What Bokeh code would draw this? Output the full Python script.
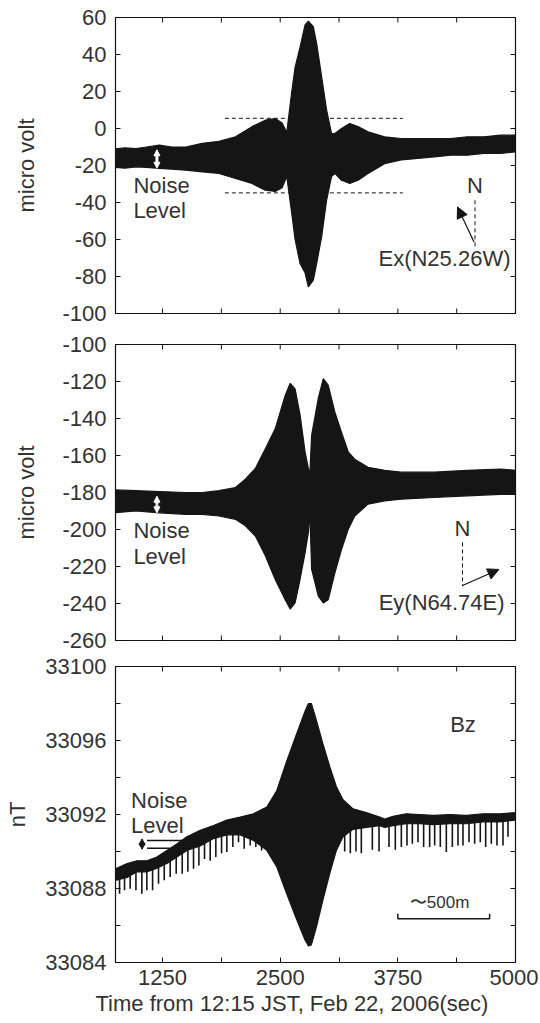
import numpy as np
from bokeh.plotting import figure
from bokeh.models import (Range1d, FixedTicker, Label, Arrow, NormalHead,
                          ColumnDataSource, Title)
from bokeh.layouts import column
from bokeh.embed import file_html
from bokeh.resources import INLINE

# ---------------- data ----------------
# Ex channel: upper / lower envelope of the recorded signal (micro volt)
ex_t = [750, 850, 968, 1080, 1215, 1350, 1496, 1672, 1849, 2025, 2200, 2341,
        2447, 2520, 2570, 2623, 2658, 2711, 2764, 2799, 2852, 2887, 2940, 2993,
        3045, 3081, 3151, 3239, 3327, 3433, 3609, 3785, 3961, 4137, 4313, 4489,
        4665, 4841, 5000]
ex_hi = [-11, -10.5, -10.8, -10, -9, -10, -10, -8, -7, -4.5, 1, 4.5,
         5.4, 3, -2, 20, 33, 44, 56, 58, 55, 46, 28, 10,
         -2.7, -2.7, 0, 2.7, 1, -1.8, -4.5, -5.4, -5.4, -5.4, -5.4, -4.5,
         -4.5, -3.6, -3.6]
ex_lo = [-21, -21.5, -20.7, -21, -21.6, -22, -22.5, -23.4, -24.3, -27, -29.7, -33.3,
         -34, -32, -26, -46, -60, -73, -78, -85.6, -82, -73, -58.6, -38.8,
         -26, -24.3, -28, -29.7, -28, -24.3, -19, -17, -16.2, -15.3, -14.4, -14.4,
         -13.5, -13.5, -12.6]
ex_band_levels = [5.5, -34.8]          # dashed reference levels
ex_band_span = [1912, 3803]

# Ey channel envelope (micro volt)
ey_t = [750, 968, 1215, 1496, 1672, 1849, 2025, 2130, 2236, 2341, 2447, 2553,
        2606, 2658, 2711, 2764, 2799, 2815, 2834, 2905, 2958, 3010, 3081, 3151,
        3222, 3292, 3433, 3609, 3785, 4137, 4489, 4841, 5000]
ey_hi = [-178.6, -179, -179.5, -180, -180, -179, -177.3, -172.8, -167, -156.5, -145.6, -127.5,
         -121, -124, -138, -158, -167, -170, -149, -129, -118.5, -122, -136.6, -147.4,
         -158, -162, -166.4, -168, -169, -169, -168, -167.3, -168]
ey_lo = [-190.9, -190, -191, -191.8, -191.8, -192.7, -194.5, -198, -203.5, -214, -227, -238,
         -243, -239.7, -227, -212.6, -201.7, -191, -221.6, -236, -239.7, -238, -223.4, -210.8,
         -200, -192.7, -186.3, -184.5, -183.6, -182.7, -181.8, -181, -181]

# Bz channel envelope (nT)
bz_t = [750, 874, 977, 1083, 1190, 1296, 1402, 1508, 1650, 1792, 1933, 2075,
        2216, 2358, 2464, 2570, 2677, 2765, 2800, 2831, 2884, 2955, 3026, 3097,
        3167, 3274, 3415, 3557, 3610, 3699, 3840, 3982, 4124, 4301, 4478, 4655,
        4832, 5000]
bz_hi = [33089.07, 33089.35, 33089.5, 33089.5, 33089.7, 33090.06, 33090.4, 33090.8,
         33091.14, 33091.4, 33091.7, 33091.86, 33092.04, 33092.4, 33093.3, 33094.9,
         33096.4, 33097.6, 33098.0, 33098.0, 33097.1, 33095.8, 33094.6, 33093.5,
         33092.8, 33092.3, 33092.1, 33091.86, 33091.75, 33091.9, 33092.04, 33092.0,
         33091.95, 33092.0, 33091.95, 33092.04, 33092.04, 33092.1]
bz_lo = [33088.44, 33088.6, 33088.9, 33088.9, 33089.1, 33089.35, 33089.7, 33090.06,
         33090.3, 33090.7, 33090.9, 33090.9, 33090.6, 33090.06, 33089.16, 33087.7,
         33086.3, 33085.2, 33084.9, 33084.95, 33085.9, 33087.4, 33088.8, 33090.06,
         33090.8, 33091.2, 33091.3, 33091.4, 33091.3, 33091.4, 33091.5, 33091.5,
         33091.45, 33091.5, 33091.5, 33091.6, 33091.6, 33091.7]
# downward spikes of the Bz record: time (sec) and lowest value (nT)
bz_spike_t = [793, 846, 906, 967, 1030, 1083, 1144, 1207, 1268, 1331, 1395, 1459,
              1519, 1579, 1636, 1696, 1756, 1816, 1877, 1933, 1997, 2057, 2117, 2181,
              2241, 2302, 3185, 3245, 3305, 3362, 3479, 3550, 3656, 3723, 3787, 3847,
              3904, 3964, 4024, 4088, 4141, 4201, 4265, 4329, 4389, 4442, 4506, 4566,
              4626, 4683, 4743, 4803, 4867, 4920]
bz_spike_lo = [33087.72, 33087.9, 33087.99, 33087.9, 33087.72, 33087.9, 33087.9, 33088.26,
               33088.44, 33088.62, 33088.8, 33088.8, 33088.9, 33089.07, 33089.25, 33089.6,
               33089.5, 33089.7, 33089.9, 33089.97, 33090.24, 33090.5, 33090.15, 33090.33,
               33090.24, 33090.06, 33090.0, 33089.9, 33090.0, 33089.9, 33090.1, 33090.0,
               33090.24, 33090.1, 33090.24, 33090.33, 33090.42, 33090.5, 33090.24, 33090.24,
               33090.33, 33090.24, 33089.97, 33090.24, 33090.33, 33090.33, 33090.5, 33090.42,
               33090.5, 33090.24, 33090.42, 33090.33, 33090.33, 33090.8]

x_ticks = [1250, 1875, 2500, 3125, 3750, 4375, 5000]
x_tick_text = ["1250", "", "2500", "", "3750", "", "5000"]
ex_ticks = [-100, -80, -60, -40, -20, 0, 20, 40, 60]
ey_ticks = [-260, -240, -220, -200, -180, -160, -140, -120, -100]
bz_ticks = [33084, 33086, 33088, 33090, 33092, 33094, 33096, 33098, 33100]
bz_tick_text = ["33084", "", "33088", "", "33092", "", "33096", "", "33100"]
x_title = "Time from 12:15 JST, Feb 22, 2006(sec)"

# ---------------- styling ----------------
FONT = "Liberation Sans"
TXT = "#333333"
INK = "#151515"
FS = "22px"
FRAME_W, FRAME_H = 402, 296
TICK_PX = 5
XR = (750, 5000)


def make_fig(height, yr, yticks, ytext, ylabel, bl, bt, lab_standoff, show_x):
    bb = height - bt - FRAME_H
    br = 538 - bl - FRAME_W
    p = figure(width=538, height=height, x_range=Range1d(*XR),
               y_range=Range1d(*yr), output_backend="svg", toolbar_location=None,
               min_border_left=bl, min_border_right=br, min_border_top=bt,
               min_border_bottom=bb, x_axis_location="below" if show_x else None)
    p.grid.visible = False
    p.outline_line_color = "#111111"
    p.outline_line_width = 1.2
    p.background_fill_color = "white"
    p.border_fill_color = "white"

    def style(ax, ticks, overrides):
        ax.ticker = FixedTicker(ticks=ticks)
        ax.major_tick_in = TICK_PX
        ax.major_tick_out = 0
        ax.minor_tick_line_color = None
        ax.major_tick_line_color = "#111111"
        ax.axis_line_color = None
        ax.major_label_overrides = overrides
        ax.major_label_text_font = FONT
        ax.major_label_text_font_size = FS
        ax.major_label_text_color = TXT

    yax = p.yaxis[0]
    style(yax, yticks, {t: s for t, s in zip(yticks, ytext)})
    yax.major_label_standoff = 9
    yax.axis_label = ylabel
    yax.axis_label_text_font = FONT
    yax.axis_label_text_font_size = FS
    yax.axis_label_text_font_style = "normal"
    yax.axis_label_text_color = TXT
    yax.axis_label_standoff = lab_standoff

    # inward ticks on the unlabeled sides (right, top, and bottom when unlabeled)
    sx = (XR[1] - XR[0]) / FRAME_W * TICK_PX
    sy = (yr[1] - yr[0]) / FRAME_H * TICK_PX
    n = len(yticks)
    p.segment(x0=[XR[1]] * n, y0=yticks, x1=[XR[1] - sx] * n, y1=yticks,
              line_color="#111111", line_width=1)
    m = len(x_ticks)
    p.segment(x0=x_ticks, y0=[yr[1]] * m, x1=x_ticks, y1=[yr[1] - sy] * m,
              line_color="#111111", line_width=1)
    if show_x:
        xax = p.xaxis[0]
        style(xax, x_ticks, {t: s for t, s in zip(x_ticks, x_tick_text)})
        xax.major_label_standoff = 7
        p.add_layout(Title(text=x_title, align="left", offset=-20, standoff=3,
                           text_font=FONT, text_font_size=FS, text_color=TXT,
                           text_font_style="normal"), "below")
    else:
        p.segment(x0=x_ticks, y0=[yr[0]] * m, x1=x_ticks, y1=[yr[0] + sy] * m,
                  line_color="#111111", line_width=1)
    return p


def signal(p, t, lo, hi):
    src = ColumnDataSource(dict(t=t, lo=lo, hi=hi))
    p.varea(x="t", y1="lo", y2="hi", source=src, fill_color=INK)
    p.line(x="t", y="hi", source=src, line_color=INK, line_width=1.2)
    p.line(x="t", y="lo", source=src, line_color=INK, line_width=1.2)


def text(p, x, y, s, align="left", size=FS):
    p.add_layout(Label(x=x, y=y, text=s, text_font=FONT, text_font_size=size,
                       text_color=TXT, text_align=align, text_baseline="middle"))


def arrow(p, x0, y0, x1, y1, color, lw, size):
    p.add_layout(Arrow(x_start=x0, y_start=y0, x_end=x1, y_end=y1, start=None,
                       end=NormalHead(size=size, fill_color=color, line_color=color,
                                      line_width=1),
                       line_color=color, line_width=lw))


# ---------------- panel 1: Ex ----------------
p1 = make_fig(330, (-100, 60), ex_ticks, [str(v) for v in ex_ticks], "micro volt",
              113, 17, 20, False)
signal(p1, ex_t, ex_lo, ex_hi)
for lev in ex_band_levels:
    p1.line(ex_band_span, [lev, lev], line_color=INK, line_width=1, line_dash="4 3")
arrow(p1, 1190, -16.5, 1190, -11.5, "white", 3, 6)
arrow(p1, 1190, -16.5, 1190, -21.5, "white", 3, 6)
text(p1, 940, -31, "Noise")
text(p1, 940, -44.5, "Level")
text(p1, 4570, -30.6, "N", "center")
p1.line([4570, 4570], [-38.8, -64.9], line_color=INK, line_width=1, line_dash="4 3")
arrow(p1, 4559, -61.3, 4384, -42.4, INK, 1.2, 11)
text(p1, 4947, -70.3, "Ex(N25.26W)", "right")

# ---------------- panel 2: Ey ----------------
p2 = make_fig(323, (-260, -100), ey_ticks, [str(v) for v in ey_ticks], "micro volt",
              113, 14, 20, False)
signal(p2, ey_t, ey_lo, ey_hi)
arrow(p2, 1190, -186.5, 1190, -182, "white", 3, 6)
arrow(p2, 1190, -186.5, 1190, -191, "white", 3, 6)
text(p2, 940, -200.5, "Noise")
text(p2, 940, -214.4, "Level")
text(p2, 4437, -199.6, "N", "center")
p2.line([4437, 4437], [-207, -230.7], line_color=INK, line_width=1, line_dash="4 3")
arrow(p2, 4437, -230.3, 4823, -221.6, INK, 1.2, 11)
text(p2, 4884, -239.7, "Ey(N64.74E)", "right")

# ---------------- panel 3: Bz ----------------
p3 = make_fig(369, (33084, 33100), bz_ticks, bz_tick_text, "nT",
              115, 13, 12, True)
spike_top = np.interp(bz_spike_t, bz_t, bz_hi)
p3.segment(x0=bz_spike_t, y0=bz_spike_lo, x1=bz_spike_t, y1=spike_top,
           line_color=INK, line_width=1.6)
signal(p3, bz_t, bz_lo, bz_hi)
text(p3, 916, 33092.76, "Noise")
text(p3, 916, 33091.4, "Level")
arrow(p3, 1032, 33090.4, 1032, 33090.68, INK, 1.5, 6)
arrow(p3, 1032, 33090.4, 1032, 33090.12, INK, 1.5, 6)
p3.line([1085, 1535], [33090.6, 33090.6], line_color=INK, line_width=1.5)
p3.line([1085, 1331], [33090.17, 33090.17], line_color=INK, line_width=1.5)
text(p3, 4442, 33096.87, "Bz", "center")
text(p3, 4193, 33087.22, "\u301c500m", "center", "17px")
p3.line([3750, 3750, 4725, 4725], [33086.64, 33086.37, 33086.37, 33086.64],
        line_color=INK, line_width=1.5)

layout = column(p1, p2, p3, spacing=0)
open("out.html", "w").write(file_html(layout, INLINE))
